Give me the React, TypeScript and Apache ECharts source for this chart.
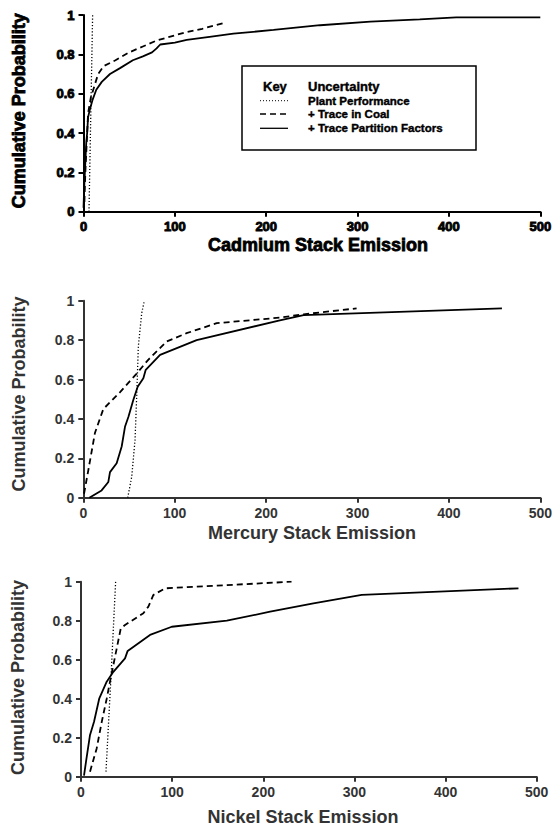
import React, { useEffect, useRef } from "react";
import * as echarts from "echarts";

// ---- Data (x = stack emission, y = cumulative probability) ----
const xTicks = [0, 100, 200, 300, 400, 500];
const yTicks = [0, 0.2, 0.4, 0.6, 0.8, 1];

const cdPlant: number[][] = [[6, 0], [8, 0.5], [10, 1]];
const cdCoal: number[][] = [
  [1, 0.05], [2, 0.2], [3, 0.3], [4, 0.4], [5, 0.5], [8, 0.58], [12, 0.64], [16, 0.7],
  [22, 0.74], [35, 0.77], [50, 0.81], [65, 0.84], [80, 0.87], [95, 0.89], [110, 0.91],
  [130, 0.93], [154, 0.96],
];
const cdPartition: number[][] = [
  [0, 0.02], [1, 0.15], [2, 0.25], [3, 0.35], [4, 0.4], [5, 0.48], [7, 0.52], [10, 0.57],
  [14, 0.62], [20, 0.66], [29, 0.7], [40, 0.73], [54, 0.77], [65, 0.79], [75, 0.81],
  [80, 0.83], [84, 0.85], [100, 0.86], [113, 0.873], [140, 0.89], [164, 0.905],
  [208, 0.924], [259, 0.948], [314, 0.966], [368, 0.978], [408, 0.988], [500, 0.988],
];

const hgPlant: number[][] = [
  [48.6, 0], [53, 0.107], [56.6, 0.293], [58.4, 0.513], [60.2, 0.767], [63.9, 0.937], [66.8, 1.0],
];
const hgCoal: number[][] = [
  [0.8, 0.02], [5.5, 0.14], [12.8, 0.33], [21.9, 0.45], [40, 0.535], [58.4, 0.63], [71, 0.7],
  [91.3, 0.793], [113, 0.835], [146, 0.886], [215, 0.914], [241, 0.931], [299, 0.961],
];
const hgPartition: number[][] = [
  [6.6, 0], [20, 0.037], [27.4, 0.08], [29.2, 0.13], [36.5, 0.175], [42, 0.26], [45.6, 0.36],
  [49.3, 0.41], [54.7, 0.496], [59.5, 0.563], [65.7, 0.606], [68.3, 0.649], [84, 0.725],
  [124, 0.8], [215, 0.9], [241, 0.927], [458, 0.961],
];

const niPlant: number[][] = [[27.4, 0.026], [33, 0.52], [38, 1.0]];
const niCoal: number[][] = [
  [9.9, 0.026], [17.2, 0.145], [22.7, 0.28], [28.2, 0.4], [31.8, 0.487], [39.2, 0.658],
  [43.6, 0.76], [48.3, 0.778], [68.4, 0.838], [73.9, 0.872], [79.4, 0.932], [92.2, 0.966],
  [231, 1.0],
];
const niPartition: number[][] = [
  [3.3, 0.005], [5.5, 0.077], [9.9, 0.214], [14.3, 0.282], [20.1, 0.402], [28.2, 0.487],
  [35.5, 0.538], [48.3, 0.607], [51.2, 0.645], [75.7, 0.727], [99.6, 0.769], [160, 0.8],
  [207.5, 0.846], [255, 0.889], [308, 0.932], [480, 0.966],
];

const xTitles = ["Cadmium Stack Emission", "Mercury Stack Emission", "Nickel Stack Emission"];
const yTitle = "Cumulative Probability";
const legendTitle = ["Key", "Uncertainty"];
const legendNames = ["Plant Performance", "+ Trace in Coal", "+ Trace Partition Factors"];

const FONT = "'Liberation Sans', Arial, Helvetica, sans-serif";

export default function App() {
  const ref = useRef<HTMLDivElement>(null);

  useEffect(() => {
    if (!ref.current) return;
    const chart = echarts.init(ref.current, undefined, { renderer: "svg" });

    const grids = [
      { left: 83.5, right: 14.7, top: 15, height: 196.7 },
      { left: 83.3, right: 14.5, top: 300.7, height: 197 },
      { left: 81, right: 18.3, top: 581.7, height: 195 },
    ];
    const heavy = [true, false, false];
    const axisColor = ["#000", "#333", "#333"];
    const textColor = ["#000", "#333", "#333"];
    const labelSize = [13, 14, 14];

    const xAxes = grids.map((_, i) => ({
      type: "value",
      gridIndex: i,
      min: xTicks[0],
      max: xTicks[xTicks.length - 1],
      interval: xTicks[1] - xTicks[0],
      axisLine: { show: true, lineStyle: { color: axisColor[i], width: 2 } },
      axisTick: { show: true, inside: false, length: 5, lineStyle: { color: axisColor[i], width: 2 } },
      splitLine: { show: false },
      axisLabel: {
        margin: 8,
        fontSize: labelSize[i],
        fontWeight: "bold",
        fontFamily: FONT,
        color: textColor[i],
        textBorderColor: heavy[i] ? "#000" : "transparent",
        textBorderWidth: heavy[i] ? 0.9 : 0,
      },
    }));
    const yAxes = grids.map((_, i) => ({
      type: "value",
      gridIndex: i,
      min: yTicks[0],
      max: yTicks[yTicks.length - 1],
      interval: 0.2,
      axisLine: { show: true, lineStyle: { color: axisColor[i], width: 2 } },
      axisTick: { show: true, inside: false, length: 5, lineStyle: { color: axisColor[i], width: 2 } },
      splitLine: { show: false },
      axisLabel: {
        margin: 9,
        fontSize: labelSize[i],
        fontWeight: "bold",
        fontFamily: FONT,
        color: textColor[i],
        textBorderColor: heavy[i] ? "#000" : "transparent",
        textBorderWidth: heavy[i] ? 0.9 : 0,
        formatter: (v: number) => String(+v.toFixed(1)),
      },
    }));

    const sets = [
      [cdPlant, cdCoal, cdPartition],
      [hgPlant, hgCoal, hgPartition],
      [niPlant, niCoal, niPartition],
    ];
    const styles = [
      { type: [1.2, 2], width: 1.3 },
      { type: [6, 4], width: 1.8 },
      { type: "solid", width: 1.8 },
    ];
    const series: any[] = [];
    sets.forEach((set, gi) => {
      set.forEach((d, si) => {
        series.push({
          type: "line",
          name: legendNames[si],
          xAxisIndex: gi,
          yAxisIndex: gi,
          data: d,
          symbol: "none",
          showSymbol: false,
          lineStyle: { color: "#000", width: styles[si].width, type: styles[si].type },
          z: 3 + si,
        });
      });
    });

    const titleStyle = (i: number) => ({
      fontSize: 18,
      fontWeight: "bold",
      fontFamily: FONT,
      fill: textColor[i],
      stroke: heavy[i] ? "#000" : undefined,
      lineWidth: heavy[i] ? 0.8 : 0,
      align: "center",
      verticalAlign: "middle",
    });

    const xTitlePos = [
      [318, 245],
      [312, 532.5],
      [303, 817],
    ];
    const yTitlePos = [
      [18.5, 110.7],
      [18.5, 394],
      [17.5, 677.5],
    ];

    const graphic: any[] = [];
    xTitles.forEach((t, i) => {
      graphic.push({
        type: "text",
        x: xTitlePos[i][0],
        y: xTitlePos[i][1],
        style: { text: t, ...titleStyle(i) },
      });
      graphic.push({
        type: "text",
        x: yTitlePos[i][0],
        y: yTitlePos[i][1],
        rotation: Math.PI / 2,
        style: { text: yTitle, ...titleStyle(i) },
      });
    });

    // Legend box (top chart)
    const legText = (text: string, x: number, y: number, size: number) => ({
      type: "text",
      x,
      y,
      style: {
        text,
        fontSize: size,
        fontWeight: "bold",
        fontFamily: FONT,
        fill: "#000",
        stroke: "#000",
        lineWidth: 0.4,
        align: "left",
        verticalAlign: "middle",
      },
    });
    graphic.push({
      type: "rect",
      shape: { x: 242, y: 66, width: 234, height: 84 },
      style: { fill: "#fff", stroke: "#000", lineWidth: 1.5 },
      z: 10,
    });
    graphic.push({ ...legText(legendTitle[0], 263, 86.7, 13), z: 11 });
    graphic.push({ ...legText(legendTitle[1], 308, 86.7, 13), z: 11 });
    const rowY = [100.7, 114, 128.3];
    legendNames.forEach((n, i) => {
      graphic.push({ ...legText(n, 308, rowY[i], 11.5), z: 11 });
      graphic.push({
        type: "line",
        shape: { x1: 260, y1: rowY[i], x2: 288, y2: rowY[i] },
        style: {
          stroke: "#000",
          lineWidth: i === 0 ? 1 : 1.3,
          lineDash: i === 0 ? [1, 2] : i === 1 ? [6, 4] : null,
        },
        z: 11,
      });
    });

    chart.setOption({
      animation: false,
      backgroundColor: "#fff",
      grid: grids.map((g) => ({ ...g, containLabel: false })),
      xAxis: xAxes,
      yAxis: yAxes,
      series,
      graphic,
    });

    return () => chart.dispose();
  }, []);

  return (
    <div
      ref={ref}
      style={{ position: "absolute", left: 0, top: 0, width: 555, height: 828 }}
    />
  );
}
